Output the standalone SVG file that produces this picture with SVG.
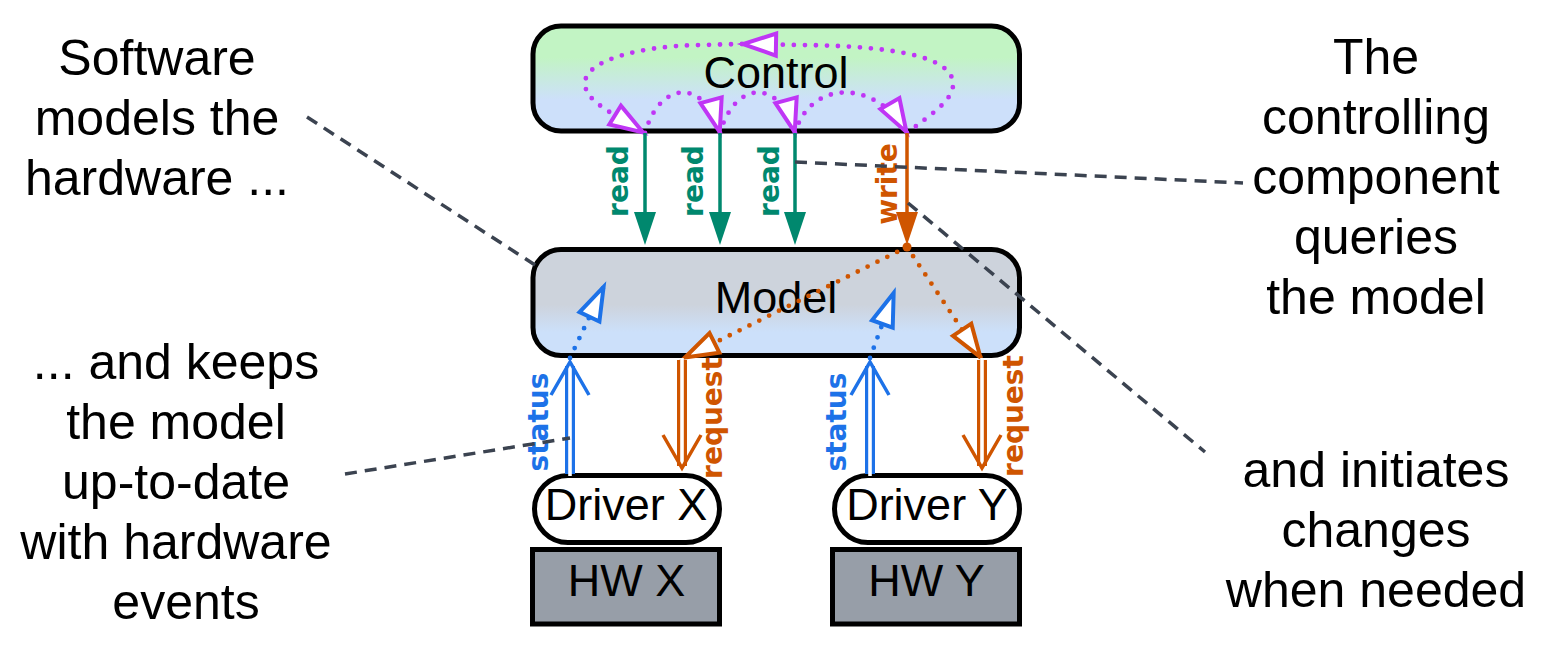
<svg xmlns="http://www.w3.org/2000/svg" width="1543" height="651" viewBox="0 0 1543 651">
<defs>
<style>
.box{stroke:#000;stroke-width:5}
.t{font-family:"Liberation Sans",Arial,sans-serif;font-size:45px;fill:#000;text-anchor:middle}
.note{font-family:"Liberation Sans",Arial,sans-serif;font-size:50px;fill:#000;text-anchor:middle}
.lbl{font-family:"DejaVu Sans",sans-serif;font-weight:bold;font-size:28px;text-anchor:middle}
.dot{fill:none;stroke-width:4.8;stroke-linecap:round;stroke-dasharray:0 11}
.ann{fill:none;stroke:#3b4350;stroke-width:3.5;stroke-dasharray:12 8}
.dbl{fill:none;stroke-width:10}
.dblw{fill:none;stroke:#fff;stroke-width:3.6}
.chev{fill:none;stroke-width:3.5;stroke-linejoin:miter;stroke-linecap:butt}
</style>
<linearGradient id="gControl" x1="0" y1="0" x2="0" y2="1">
<stop offset="0" stop-color="#c2f4c4"/>
<stop offset="0.3" stop-color="#c2f4c4"/>
<stop offset="0.7" stop-color="#cde0fa"/>
<stop offset="1" stop-color="#cde0fa"/>
</linearGradient>
<linearGradient id="gModel" x1="0" y1="0" x2="0" y2="1">
<stop offset="0" stop-color="#cdd3dc"/>
<stop offset="0.52" stop-color="#cdd3dc"/>
<stop offset="0.78" stop-color="#cce0fa"/>
<stop offset="1" stop-color="#cce0fa"/>
</linearGradient>
<marker id="oP" markerUnits="userSpaceOnUse" viewBox="-44 -20 50 40" markerWidth="50" markerHeight="40" refX="0" refY="0" orient="auto" overflow="visible"><path d="M-1,0 L-34,-11 L-34,11 Z" fill="#fff" stroke="#bf36f5" stroke-width="4"/></marker>
<marker id="oO" markerUnits="userSpaceOnUse" viewBox="-44 -20 50 40" markerWidth="50" markerHeight="40" refX="0" refY="0" orient="auto" overflow="visible"><path d="M-1,0 L-34,-11 L-34,11 Z" fill="#fff" stroke="#cf5500" stroke-width="4"/></marker>
<marker id="oB" markerUnits="userSpaceOnUse" viewBox="-44 -20 50 40" markerWidth="50" markerHeight="40" refX="0" refY="0" orient="auto" overflow="visible"><path d="M-1,0 L-34,-11 L-34,11 Z" fill="#fff" stroke="#1d72e8" stroke-width="4"/></marker>
<marker id="sT" markerUnits="userSpaceOnUse" viewBox="-20 -14 44 28" markerWidth="44" markerHeight="28" refX="0" refY="0" orient="auto" overflow="visible"><path d="M20,0 L-13,-11 L-13,11 Z" fill="#00886e"/></marker>
<marker id="sO" markerUnits="userSpaceOnUse" viewBox="-20 -14 44 28" markerWidth="44" markerHeight="28" refX="0" refY="0" orient="auto" overflow="visible"><path d="M20,0 L-13,-11 L-13,11 Z" fill="#cf5500"/></marker>
</defs>

<g id="notes">
<text class="note" x="157" y="75">Software</text>
<text class="note" x="157" y="135">models the</text>
<text class="note" x="157" y="195">hardware ...</text>
<text class="note" x="1376" y="74">The</text>
<text class="note" x="1376" y="134">controlling</text>
<text class="note" x="1376" y="194">component</text>
<text class="note" x="1376" y="254">queries</text>
<text class="note" x="1376" y="314">the model</text>
<text class="note" x="176" y="379">... and keeps</text>
<text class="note" x="176" y="439">the model</text>
<text class="note" x="176" y="499">up-to-date</text>
<text class="note" x="176" y="559">with hardware</text>
<text class="note" x="186" y="619">events</text>
<text class="note" x="1376" y="487">and initiates</text>
<text class="note" x="1376" y="547">changes</text>
<text class="note" x="1376" y="607">when needed</text>
</g>

<g id="control">
<rect class="box" x="533" y="26" width="486.5" height="105" rx="28" fill="url(#gControl)"/>
<text class="t" x="776" y="88">Control</text>
</g>

<g id="model">
<rect class="box" x="533" y="249.5" width="486.5" height="106" rx="28" fill="url(#gModel)"/>
<text class="t" x="776" y="313">Model</text>
</g>

<g id="driver-x">
<rect class="box" x="534.5" y="475.5" width="185" height="67" rx="33.5" fill="#fff"/>
<text class="t" x="626" y="520">Driver X</text>
</g>
<g id="driver-y">
<rect class="box" x="834.5" y="475.5" width="185" height="67" rx="33.5" fill="#fff"/>
<text class="t" x="927" y="520">Driver Y</text>
</g>
<g id="hw-x">
<rect class="box" x="532.5" y="549.5" width="187" height="74.5" fill="#979ea8"/>
<text class="t" x="626.5" y="596">HW X</text>
</g>
<g id="hw-y">
<rect class="box" x="832.5" y="549.5" width="187" height="74.5" fill="#979ea8"/>
<text class="t" x="926.5" y="596">HW Y</text>
</g>

<g id="connectors">
<path class="dot" stroke="#bf36f5" d="M907,133 C930,115 955,100 953,82 C950,58 900,46 800,45 L742,44" marker-end="url(#oP)"/>
<path class="dot" stroke="#bf36f5" d="M742,44 L700,45 C640,46 587,60 585,82 C584,100 607,110 644,133" marker-end="url(#oP)"/>
<path class="dot" stroke="#bf36f5" d="M645,133 C660,80 705,78 720,133" marker-end="url(#oP)"/>
<path class="dot" stroke="#bf36f5" d="M720,133 C735,80 780,78 795,133" marker-end="url(#oP)"/>
<path class="dot" stroke="#bf36f5" d="M795,133 C810,80 875,78 907,133" marker-end="url(#oP)"/>

<path d="M645,133 V225" stroke="#00886e" stroke-width="3.5" fill="none" marker-end="url(#sT)"/>
<path d="M720,133 V225" stroke="#00886e" stroke-width="3.5" fill="none" marker-end="url(#sT)"/>
<path d="M795,133 V225" stroke="#00886e" stroke-width="3.5" fill="none" marker-end="url(#sT)"/>
<path d="M907,133 V225" stroke="#cf5500" stroke-width="3.5" fill="none" marker-end="url(#sO)"/>
<text class="lbl" fill="#00886e" transform="translate(628,181) rotate(-90)">read</text>
<text class="lbl" fill="#00886e" transform="translate(703,181) rotate(-90)">read</text>
<text class="lbl" fill="#00886e" transform="translate(779,181) rotate(-90)">read</text>
<text class="lbl" fill="#cf5500" transform="translate(897,184) rotate(-90)">write</text>

<path class="dot" stroke="#cf5500" d="M907,247 L684,358" marker-end="url(#oO)"/>
<path class="dot" stroke="#cf5500" d="M907,247 L981,358" marker-end="url(#oO)"/>
<circle cx="907" cy="247" r="4.5" fill="#cf5500"/>

<path class="dot" stroke="#1d72e8" d="M570,358 L604,286" marker-end="url(#oB)"/>
<path class="dot" stroke="#1d72e8" d="M870,358 L894,292" marker-end="url(#oB)"/>

<path class="dbl" stroke="#1d72e8" d="M570,366 V474"/>
<path class="dblw" d="M570,364 V476"/>
<path class="chev" stroke="#1d72e8" d="M551,395 L570,362 L589,395"/>
<path class="dbl" stroke="#1d72e8" d="M870,366 V474"/>
<path class="dblw" d="M870,364 V476"/>
<path class="chev" stroke="#1d72e8" d="M851,395 L870,362 L889,395"/>
<text class="lbl" fill="#1d72e8" transform="translate(548,422) rotate(-90)">status</text>
<text class="lbl" fill="#1d72e8" transform="translate(846,422) rotate(-90)">status</text>

<path class="dbl" stroke="#cf5500" d="M682,360 V466"/>
<path class="dblw" d="M682,358 V466"/>
<path class="chev" stroke="#cf5500" d="M663,435 L682,468 L701,435"/>
<path class="dbl" stroke="#cf5500" d="M982,360 V466"/>
<path class="dblw" d="M982,358 V466"/>
<path class="chev" stroke="#cf5500" d="M963,435 L982,468 L1001,435"/>
<text class="lbl" fill="#cf5500" transform="translate(722,418) rotate(-90)">request</text>
<text class="lbl" fill="#cf5500" transform="translate(1023,416) rotate(-90)">request</text>
</g>

<g id="annotations">
<path class="ann" d="M307,117 L535,265"/>
<path class="ann" d="M795,162 L1243,183"/>
<path class="ann" d="M908,203 L1205,452"/>
<path class="ann" d="M345,474 L570,438"/>
</g>
</svg>
